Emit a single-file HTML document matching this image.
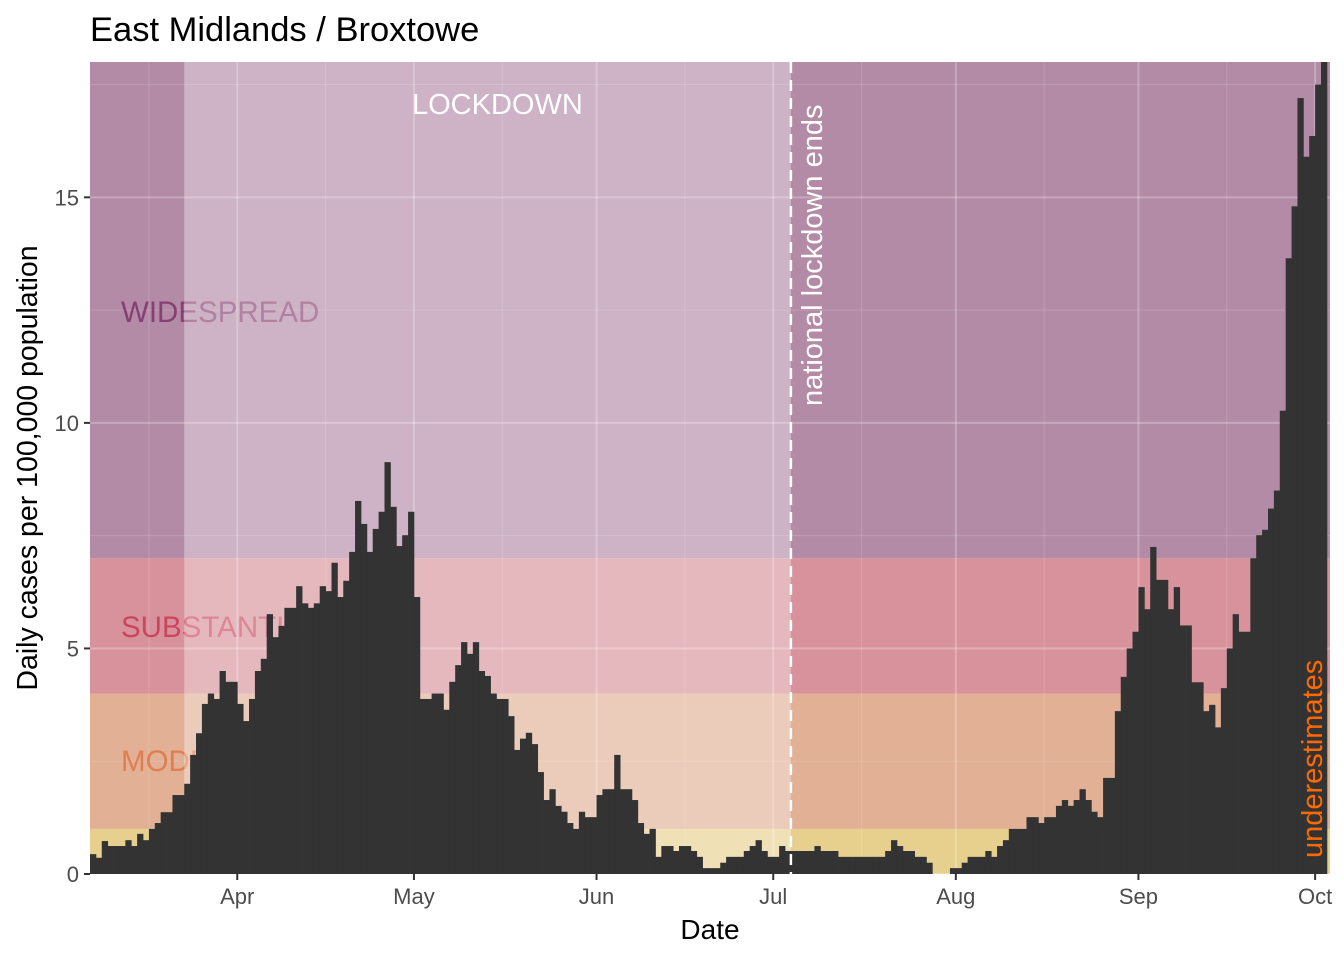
<!DOCTYPE html>
<html><head><meta charset="utf-8"><style>
html,body{margin:0;padding:0;background:#fff;}
svg{display:block;font-family:"Liberation Sans",Arial,sans-serif;}
</style></head><body>
<svg id="chart" width="1344" height="960" viewBox="0 0 1344 960">
<text x="90" y="41" font-size="34.5" fill="#000">East Midlands / Broxtowe</text>
<g id="bg"></g><g id="grid"></g><g id="lbl"></g><g id="ov"></g><g id="bars"></g><g id="annot"></g><g id="axes"></g>
<text x="710" y="939" font-size="28" text-anchor="middle" fill="#000">Date</text>
<text transform="translate(37,468) rotate(-90)" font-size="28.5" text-anchor="middle" fill="#000">Daily cases per 100,000 population</text>
</svg>
<script>
const values = [0.44,0.36,0.73,0.62,0.62,0.62,0.75,0.62,0.89,0.75,1.0,1.13,1.37,1.37,1.75,1.75,2.0,2.64,3.12,3.77,4.0,3.88,4.5,4.26,4.26,3.77,3.39,3.88,4.5,4.77,5.76,5.25,5.5,5.9,5.9,6.38,6.0,5.9,6.0,6.38,6.27,6.9,6.14,6.5,7.14,8.27,7.76,7.14,7.65,8.03,9.13,8.14,7.27,7.51,8.03,6.14,
3.88,3.88,4.0,4.0,3.64,4.26,4.63,5.14,4.88,5.14,4.5,4.39,4.0,3.88,3.88,3.5,2.75,3.0,3.13,2.88,2.26,1.64,1.88,1.51,1.38,1.13,1.0,1.38,1.26,1.26,1.75,1.88,1.88,2.64,1.88,1.88,1.64,1.13,0.89,1.0,0.38,0.62,0.62,0.51,0.62,0.62,0.51,0.38,0.13,0.13,0.13,0.25,0.38,0.38,0.38,0.51,0.62,0.75,0.51,0.38,0.38,0.62,
0.51,0.51,0.51,0.51,0.51,0.62,0.51,0.51,0.51,0.38,0.38,0.38,0.38,0.38,0.38,0.38,0.38,0.51,0.75,0.62,0.51,0.51,0.38,0.38,0.25,0,0,0,0.13,0.13,0.25,0.38,0.38,0.38,0.51,0.38,0.62,0.75,1.0,1.0,1.0,1.26,1.26,1.13,1.26,1.26,1.51,1.64,1.51,1.64,1.88,1.64,1.38,1.26,2.13,2.13,
3.61,4.37,5.0,5.37,6.36,5.87,7.25,6.52,6.52,5.87,6.36,5.51,5.51,4.25,4.25,3.61,3.75,3.25,4.12,5.0,5.76,5.37,5.37,7.0,7.51,7.63,8.1,8.5,10.27,13.65,14.8,17.2,15.9,16.36,17.5,18.5];
const yTicks = [0,5,10,15];
const xTickLabels = ["Apr","May","Jun","Jul","Aug","Sep","Oct"];
const xTickDays = [25,55,86,116,147,178,208];
const bandLimits = [0,1,4,7,18];
const bandNames = ["","MODERATE","SUBSTANTIAL","WIDESPREAD"];
const lockStart = 16, lockEnd = 119;

const NS="http://www.w3.org/2000/svg";
const L=90,R=1330,T=62,B=874,W=5.89,YMAX=18;
const xs=d=>L+d*W, ys=v=>B-(v/YMAX)*(B-T);
function mk(p,tag,at){const e=document.createElementNS(NS,tag);for(const k in at)e.setAttribute(k,at[k]);p.appendChild(e);return e;}
const g=id=>document.getElementById(id);
const bandCols=["#e7d08e","#e1b095","#d8929b","#b38ba6"];
const labCols=["#000","#e07040","#c8324f","#7b2d64"];
mk(g('bg'),'rect',{x:L,y:T,width:R-L,height:B-T,fill:'#ebebeb'});
for(let i=0;i<4;i++){
  const r=mk(g('bg'),'rect',{x:L,y:ys(Math.min(bandLimits[i+1],YMAX)),width:R-L,height:ys(bandLimits[i])-ys(Math.min(bandLimits[i+1],YMAX)),fill:bandCols[i]});
  
  
}
for(let v=0;v<=YMAX;v+=2.5){mk(g('grid'),'line',{x1:L,x2:R,y1:ys(v),y2:ys(v),stroke:'#fff','stroke-opacity':v%5===0?0.25:0.15,'stroke-width':v%5===0?2:1});}
const minorDays=[10,40,70,101,131,162,193];
xTickDays.forEach(d=>mk(g('grid'),'line',{x1:xs(d),x2:xs(d),y1:T,y2:B,stroke:'#fff','stroke-opacity':0.25,'stroke-width':2}));
minorDays.forEach(d=>mk(g('grid'),'line',{x1:xs(d),x2:xs(d),y1:T,y2:B,stroke:'#fff','stroke-opacity':0.15,'stroke-width':1}));
const labY=[0,761,627,312];
for(let i=1;i<4;i++){
  const t=mk(g('lbl'),'text',{x:121,y:labY[i]+10,'font-size':29.5,fill:labCols[i],'fill-opacity':0.8});
  t.textContent=bandNames[i];
  
  
}
const ov=mk(g('ov'),'rect',{x:xs(lockStart),y:T,width:xs(lockEnd)-xs(lockStart),height:B-T,fill:'#fff','fill-opacity':0.35});


values.forEach((v,i)=>{
  const vv=Math.min(v,YMAX);
  const b=mk(g('bars'),'rect',{x:xs(i),y:ys(vv),width:W+0.4,height:B-ys(vv),fill:'#333333'});
  
  
});
const ln=mk(g('annot'),'line',{x1:xs(lockEnd),x2:xs(lockEnd),y1:T,y2:B,stroke:'#fff','stroke-width':2.5,'stroke-dasharray':'11,7'});


const t1=mk(g('annot'),'text',{x:412,y:114,'font-size':29,fill:'#fff'});t1.textContent='LOCKDOWN';


const t2=mk(g('annot'),'text',{transform:'translate(822,406) rotate(-90)','font-size':29,fill:'#fff'});t2.textContent='national lockdown ends';


const t3=mk(g('annot'),'text',{transform:'translate(1322,858) rotate(-90)','font-size':29,fill:'#ff6a00'});t3.textContent='underestimates';


yTicks.forEach(v=>{
  mk(g('axes'),'line',{x1:L-6,x2:L,y1:ys(v),y2:ys(v),stroke:'#333','stroke-width':2});
  const t=mk(g('axes'),'text',{x:L-11,y:ys(v)+8,'font-size':22,'text-anchor':'end',fill:'#4d4d4d'});t.textContent=v;
  
  
});
xTickDays.forEach((d,i)=>{
  mk(g('axes'),'line',{x1:xs(d),x2:xs(d),y1:B,y2:B+6,stroke:'#333','stroke-width':2});
  const t=mk(g('axes'),'text',{x:xs(d),y:B+30,'font-size':22,'text-anchor':'middle',fill:'#4d4d4d'});t.textContent=xTickLabels[i];
  
  
});
</script>
</body></html>
